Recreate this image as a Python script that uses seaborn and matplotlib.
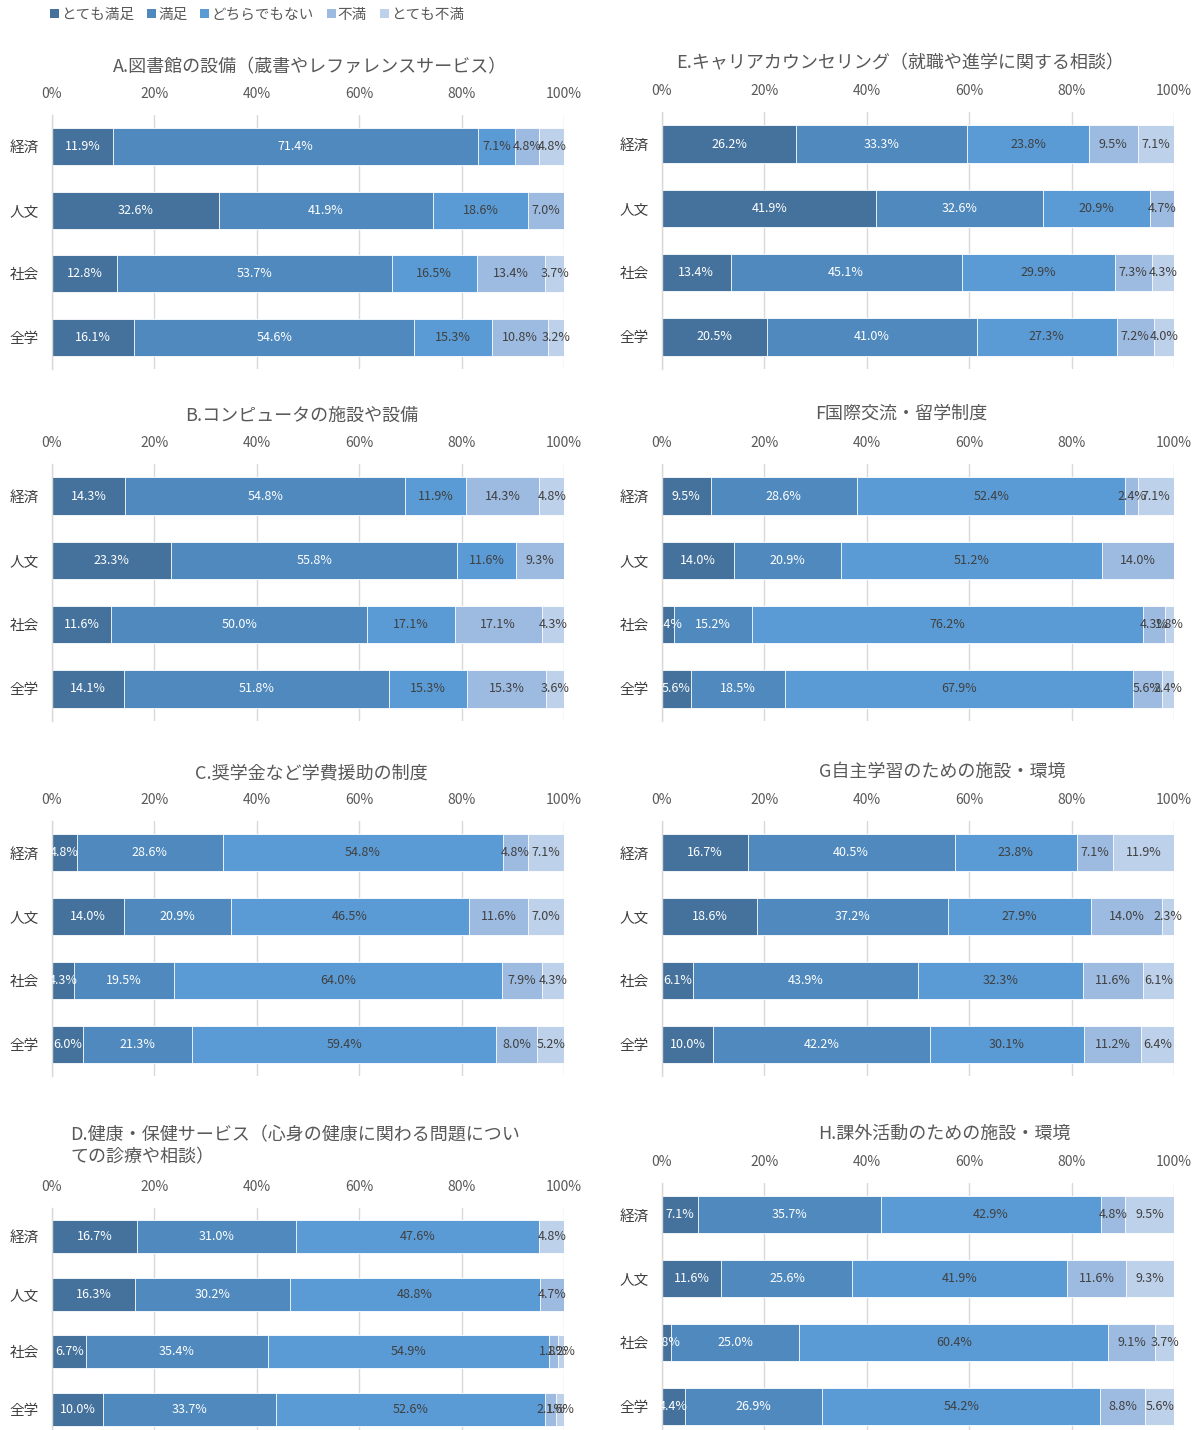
import numpy as np
import pandas as pd
import matplotlib
matplotlib.use("Agg")
import matplotlib.pyplot as plt
from matplotlib.patches import Patch
from matplotlib.ticker import FuncFormatter
import seaborn as sns

# ---- data -------------------------------------------------------------
categories = ["経済", "人文", "社会", "全学"]
levels = ["とても満足", "満足", "どちらでもない", "不満", "とても不満"]
colors = ["#44729D", "#4F89BD", "#5A9BD5", "#9DBBE1", "#BDD1EB"]

title_a = "A.図書館の設備（蔵書やレファレンスサービス）"
values_a = [[11.9, 71.4, 7.1, 4.8, 4.8],
            [32.6, 41.9, 18.6, 7.0, 0.0],
            [12.8, 53.7, 16.5, 13.4, 3.7],
            [16.1, 54.6, 15.3, 10.8, 3.2]]

title_b = "B.コンピュータの施設や設備"
values_b = [[14.3, 54.8, 11.9, 14.3, 4.8],
            [23.3, 55.8, 11.6, 9.3, 0.0],
            [11.6, 50.0, 17.1, 17.1, 4.3],
            [14.1, 51.8, 15.3, 15.3, 3.6]]

title_c = "C.奨学金など学費援助の制度"
values_c = [[4.8, 28.6, 54.8, 4.8, 7.1],
            [14.0, 20.9, 46.5, 11.6, 7.0],
            [4.3, 19.5, 64.0, 7.9, 4.3],
            [6.0, 21.3, 59.4, 8.0, 5.2]]

title_d = "D.健康・保健サービス（心身の健康に関わる問題につい\nての診療や相談）"
values_d = [[16.7, 31.0, 47.6, 0.0, 4.8],
            [16.3, 30.2, 48.8, 4.7, 0.0],
            [6.7, 35.4, 54.9, 1.8, 1.2],
            [10.0, 33.7, 52.6, 2.1, 1.6]]

title_e = "E.キャリアカウンセリング（就職や進学に関する相談）"
values_e = [[26.2, 33.3, 23.8, 9.5, 7.1],
            [41.9, 32.6, 20.9, 4.7, 0.0],
            [13.4, 45.1, 29.9, 7.3, 4.3],
            [20.5, 41.0, 27.3, 7.2, 4.0]]

title_f = "F国際交流・留学制度"
values_f = [[9.5, 28.6, 52.4, 2.4, 7.1],
            [14.0, 20.9, 51.2, 14.0, 0.0],
            [2.4, 15.2, 76.2, 4.3, 1.8],
            [5.6, 18.5, 67.9, 5.6, 2.4]]

title_g = "G自主学習のための施設・環境"
values_g = [[16.7, 40.5, 23.8, 7.1, 11.9],
            [18.6, 37.2, 27.9, 14.0, 2.3],
            [6.1, 43.9, 32.3, 11.6, 6.1],
            [10.0, 42.2, 30.1, 11.2, 6.4]]

title_h = "H.課外活動のための施設・環境"
values_h = [[7.1, 35.7, 42.9, 4.8, 9.5],
            [11.6, 25.6, 41.9, 11.6, 9.3],
            [1.8, 25.0, 60.4, 9.1, 3.7],
            [4.4, 26.9, 54.2, 8.8, 5.6]]

# ---- style ------------------------------------------------------------
sns.set_style("white")
plt.rcParams["font.family"] = ["Noto Sans CJK JP", "DejaVu Sans"]

W, H = 1199, 1430
fig = plt.figure(figsize=(W / 100, H / 100), dpi=100)

TEXT = "#595959"
DARK = "#404040"
GRID = "#D9D9D9"

# panel layout in pixels: (values, title, axes left, axes top, axes bottom,
#                           title x, title y, title alignment)
panels = [
    (values_a, title_a, 52, 115, 369, 310, 67, "center"),
    (values_b, title_b, 52, 464, 721, 302, 416, "center"),
    (values_c, title_c, 52, 821, 1076, 311, 773, "center"),
    (values_d, title_d, 52, 1208, 1438, 70, 1146, "left"),
    (values_e, title_e, 662, 112, 369, 900, 63, "center"),
    (values_f, title_f, 662, 464, 721, 901, 414, "center"),
    (values_g, title_g, 662, 821, 1076, 942, 772, "center"),
    (values_h, title_h, 662, 1183, 1438, 944, 1134, "center"),
]
AX_W = 512

for vals, title, left, top, bottom, tx, ty, ta in panels:
    ax = fig.add_axes([left / W, 1 - bottom / H, AX_W / W, (bottom - top) / H])
    arr = np.array(vals, dtype=float)
    totals = arr.sum(axis=1, keepdims=True)
    cum = np.cumsum(arr, axis=1) / totals * 100

    # stacked bars: draw cumulative totals from the last level backwards
    for k in reversed(range(len(levels))):
        df = pd.DataFrame({"category": categories, "value": cum[:, k]})
        sns.barplot(data=df, x="value", y="category", orient="h",
                    color=colors[k], saturation=1, width=0.58,
                    errorbar=None, edgecolor="white", linewidth=0.6, ax=ax)

    # value labels centred on each segment
    for i in range(len(categories)):
        start = 0.0
        for k in range(len(levels)):
            v = arr[i, k]
            seg = v / totals[i, 0] * 100
            if v > 0:
                ax.text(start + seg / 2, i, f"{v:.1f}%", ha="center", va="center",
                        fontsize=9, color="white" if k < 2 else DARK,
                        clip_on=(k == 0))
            start += seg

    ax.set_xlim(0, 100)
    ax.set_ylim(3.5, -0.5)
    ax.set_xticks(np.arange(0, 101, 20))
    ax.xaxis.set_major_formatter(FuncFormatter(lambda x, _: f"{x:.0f}%"))
    ax.xaxis.tick_top()
    ax.tick_params(axis="x", length=0, pad=10, labelsize=10, colors=TEXT)
    ax.tick_params(axis="y", length=0, pad=9.5, labelsize=10.5, colors=DARK)
    ax.set_xlabel("")
    ax.set_ylabel("")
    ax.grid(axis="x", color=GRID, linewidth=1)
    ax.grid(axis="y", visible=False)
    ax.set_axisbelow(True)
    for s in ("top", "right", "bottom"):
        ax.spines[s].set_visible(False)
    ax.spines["left"].set_color(GRID)
    ax.spines["left"].set_linewidth(1)

    fig.text(tx / W, 1 - ty / H, title, ha=ta, va="center", fontsize=13,
             color=TEXT, multialignment="left", linespacing=1.3)

handles = [Patch(facecolor=c, edgecolor="none", label=l) for c, l in zip(colors, levels)]
fig.legend(handles=handles, loc="upper left", bbox_to_anchor=(44 / W, 1 - 2 / H),
           ncol=5, frameon=False, fontsize=10.5, handlelength=0.6, handleheight=0.6,
           handletextpad=0.15, columnspacing=0.9, labelcolor=TEXT, borderaxespad=0)

fig.savefig("out.png", dpi=100)
